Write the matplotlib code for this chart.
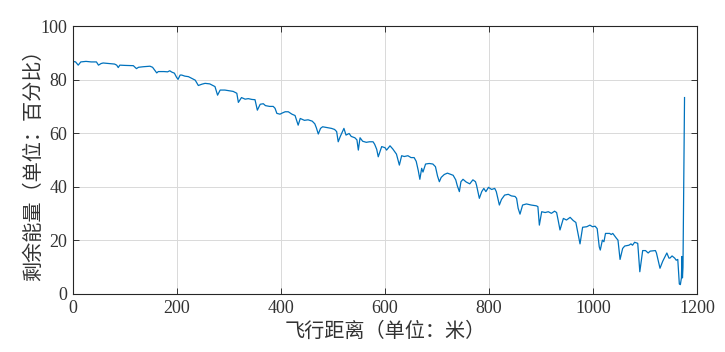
import numpy as np
import matplotlib
matplotlib.use("Agg")
import matplotlib.pyplot as plt

# 飞行距离（米）与剩余能量（%）
dist = [0, 5, 10, 15, 25, 35, 45, 49, 54, 58, 70, 80, 84, 87, 90, 100, 116, 122, 126, 135,
        148, 153, 158, 161, 164, 175, 182, 186, 190, 195, 199, 202, 206, 209, 215, 222, 228, 235,
        241, 248, 254, 263, 273, 278, 283, 292, 302, 308, 315, 318, 324, 331, 337, 344, 350,
        354.5, 360, 366, 370, 378, 385, 388.5, 392, 398, 402, 408, 414, 418, 421, 427, 433,
        437, 445, 452, 460, 465, 468, 471.7, 476, 480, 488, 497, 503, 507, 510, 514, 521, 525,
        531, 535, 542, 546, 548.7, 552, 557, 564, 570, 577, 580, 584, 587, 593.6, 600, 603,
        609.6, 615, 622, 627.6, 632, 637, 644, 650, 656, 660, 664, 667, 670.5, 673, 678, 685,
        692, 697, 701, 704.5, 708, 714, 720, 727, 731, 736, 739, 743, 746, 750, 756, 763, 769,
        774, 776, 781.4, 786, 790, 794, 799, 805, 811, 814, 817, 819.9, 824, 830, 837, 843,
        850, 853, 856, 859.6, 864.6, 872, 881, 891, 894, 896.8, 901.3, 908, 914, 920, 926, 930,
        933, 936.5, 943, 949, 956, 962, 967, 971, 975, 980, 988, 994, 999, 1004, 1008, 1012,
        1014, 1018, 1021, 1024, 1032, 1035, 1038, 1045, 1048, 1052, 1057, 1061, 1069, 1073,
        1076, 1080, 1086, 1090, 1095.5, 1101, 1106, 1110, 1120, 1122, 1128.8, 1134, 1142, 1146,
        1148, 1152, 1157, 1160, 1163, 1166, 1168, 1170, 1171, 1172, 1173, 1176]
energy = [86.8, 86.6, 85.4, 86.6, 86.8, 86.6, 86.6, 85.4, 86.0, 86.2, 86.0, 85.8, 85.4, 84.5,
          85.4, 85.3, 85.2, 84.1, 84.6, 84.8, 85.0, 84.6, 83.3, 82.5, 83.0, 83.0, 82.9, 83.3,
          82.8, 82.4, 80.9, 80.1, 81.7, 81.7, 81.3, 81.1, 80.5, 79.8, 77.8, 78.3, 78.6, 78.4,
          77.4, 74.2, 76.1, 76.1, 75.8, 75.6, 74.9, 71.5, 73.3, 72.7, 72.9, 72.6, 72.5, 68.6,
          70.8, 71.0, 70.3, 70.0, 70.0, 69.3, 67.4, 67.1, 67.5, 68.0, 68.0, 67.5, 67.1, 66.6,
          63.0, 65.5, 64.8, 65.0, 64.5, 63.5, 62.0, 59.7, 61.8, 62.4, 62.1, 61.8, 61.4, 60.6,
          56.8, 58.8, 61.8, 59.3, 59.9, 58.8, 58.3, 57.5, 53.7, 58.3, 57.0, 56.6, 56.8, 56.8,
          55.9, 54.0, 51.2, 55.0, 54.6, 53.7, 55.3, 54.1, 52.2, 48.1, 51.6, 51.3, 51.6, 50.9,
          50.9, 49.5, 46.0, 42.8, 46.9, 45.5, 48.5, 48.7, 48.5, 47.5, 44.0, 41.9, 43.5, 44.6,
          45.1, 44.6, 44.3, 42.6, 40.4, 38.2, 41.9, 42.8, 41.8, 41.1, 42.6, 41.9, 40.6, 35.7,
          38.2, 39.4, 38.2, 39.8, 39.0, 39.4, 38.2, 35.7, 33.2, 35.3, 36.9, 37.2, 36.6, 36.4,
          35.7, 32.0, 29.8, 33.2, 33.6, 33.2, 32.9, 32.6, 25.7, 30.7, 30.4, 30.7, 30.1, 30.9,
          30.4, 27.5, 23.9, 28.2, 27.6, 28.6, 27.4, 26.7, 22.6, 18.7, 24.9, 25.1, 25.7, 25.1,
          25.3, 24.4, 17.6, 16.4, 20.1, 19.5, 22.6, 22.6, 22.2, 22.6, 20.8, 20.1, 12.9, 17.0,
          17.9, 18.2, 18.7, 18.2, 19.3, 18.9, 8.3, 16.2, 16.2, 15.3, 16.0, 16.2, 15.3, 9.6,
          12.2, 15.3, 13.4, 13.4, 14.2, 13.4, 12.6, 12.9, 3.7, 3.5, 6.0, 14.0, 6.0, 10.0, 73.3]

xticks = [0, 200, 400, 600, 800, 1000, 1200]
yticks = [0, 20, 40, 60, 80, 100]

fonts = ['Liberation Serif', 'Noto Sans CJK SC', 'DejaVu Sans']
plt.rcParams['font.family'] = fonts

fig = plt.figure(figsize=(7.25, 3.52), dpi=100)
ax = fig.add_axes([0.1007, 0.1648, 0.8607, 0.7613])

ax.plot(dist, energy, color="#0072BD", linewidth=0.9)

ax.set_xlim(0, 1200)
ax.set_ylim(0, 100)
ax.set_xticks(xticks)
ax.set_yticks(yticks)
ax.grid(True, color="#d9d9d9", linewidth=0.7)
ax.set_axisbelow(True)
ax.tick_params(direction="in", length=4.5, width=0.7, top=True, right=True,
               labelsize=13, colors="#333333", pad=4)
for s in ax.spines.values():
    s.set_linewidth(0.8)
    s.set_color("#262626")

ax.set_xlabel("飞行距离（单位：米）", fontsize=14.5, color="#333333")
ax.set_ylabel("剩余能量（单位：百分比）", fontsize=14.5, color="#333333")
ax.xaxis.set_label_coords(0.5, -0.108)
ax.yaxis.set_label_coords(-0.046, 0.5)

fig.savefig("out.png", dpi=100)
